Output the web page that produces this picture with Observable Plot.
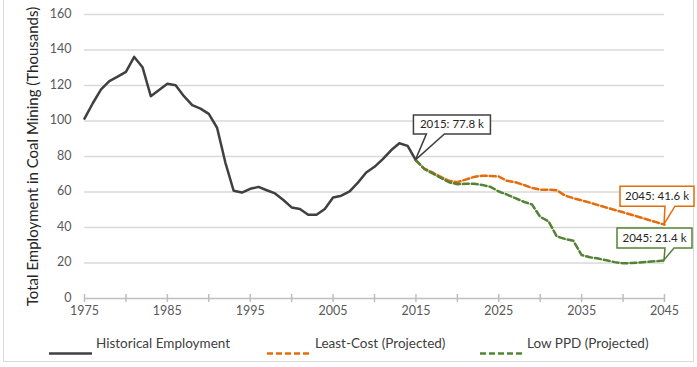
<!DOCTYPE html>
<html><head><meta charset="utf-8">
<script src="https://cdn.jsdelivr.net/npm/d3@7"></script>
<script src="https://cdn.jsdelivr.net/npm/@observablehq/plot@0.6"></script>
<style>
body{margin:0;background:#fff;font-family:Lato,"Open Sans",sans-serif;}
#wrap{position:relative;width:697px;height:367px;overflow:hidden;background:#fff}
#frame{position:absolute;left:3px;top:-10px;width:691px;height:372px;border:1.5px solid #d9d9d9;box-sizing:border-box}
#chart{position:absolute;left:0;top:0}
#legend{position:absolute;left:0;top:333px;width:697px;height:20px;font-size:13.5px;color:#404040}
.li{position:absolute;top:0;height:20px;line-height:20px;white-space:nowrap}
.sw{position:absolute;top:9px;height:3px}
</style>
</head><body>
<div id="wrap"><div id="frame"></div><div id="chart"></div><div id="legend"></div></div>
<script>
// ---- data ----
const histYears = d3.range(1975, 2016);
const historical = [101.3,110,117.8,122.5,125,127.7,136.1,130.3,114,117.5,
  121,120.2,114,109,107,104,96.2,76.6,60.7,59.7,
  61.8,62.9,61,59.2,55.5,51.3,50.4,47.2,47.2,50.4,
  56.9,57.9,60.3,65.3,71,74.2,78.5,83.5,87.5,86,77.8];
const projYears = d3.range(2015, 2046);
const leastCost = [77.8,73.2,71,68.5,66.3,65.5,67,68.5,69.2,69,
  68.7,66.3,65.5,64,62.3,61.3,61.3,61,58,56.5,
  55.3,54,52.6,51.2,49.9,48.6,47.2,45.8,44.4,43,41.6];
const lowPPD = [77.8,73,70.5,68,65.5,64.4,64.6,64.6,64,62.9,
  60.3,58.5,56.5,54.5,53,46,43.5,35,33.5,32.5,
  24.5,23.2,22.5,21.5,20.5,19.8,20,20.3,20.7,21,21.4];
const seriesNames = ["Historical Employment","Least-Cost (Projected)","Low PPD (Projected)"];
const seriesColors = ["#404040","#e46c0a","#548235"];
const yTicks = d3.range(0, 161, 20);
const xTicks = d3.range(1975, 2046, 5);
const xLabels = d3.range(1975, 2046, 10);
const annoYears = [2015, 2045, 2045];
const annoValues = [77.8, 41.6, 21.4];
const annoText = ["2015: 77.8 k", "2045: 41.6 k", "2045: 21.4 k"];
const annoColors = ["#404040", "#e46c0a", "#548235"];

const hist = histYears.map((y, i) => ({year: y, value: historical[i]}));
const lc = projYears.map((y, i) => ({year: y, value: leastCost[i]}));
const lp = projYears.map((y, i) => ({year: y, value: lowPPD[i]}));
const annos = annoYears.map((y, i) => ({year: y, value: annoValues[i], text: annoText[i], color: annoColors[i]}));

// callout geometry relative to the anchored point: [left, top, width, height, wedge1, wedge2]
const calloutGeom = [[-2,-45,77,19,11,29],[-44,-38,74,20,1,11],[-47,-32,75,20,1,10]];

function calloutRender(index, scales, values) {
  const g = d3.create("svg:g");
  for (const i of index) {
    const px = values.x[i], py = values.y[i];
    const [l, t, w, h, w1, w2] = calloutGeom[i];
    const L = px + l, T = py + t, R = L + w, B = T + h;
    g.append("path")
      .attr("d", `M${L},${T}H${R}V${B}H${px + w2}L${px},${py}L${px + w1},${B}H${L}Z`)
      .attr("fill", "#fff").attr("stroke", annos[i].color).attr("stroke-width", 1.5)
      .attr("stroke-linejoin", "miter");
    g.append("text").attr("x", L + w / 2).attr("y", T + h / 2).attr("dy", "0.35em")
      .attr("text-anchor", "middle").attr("font-size", 11.5).attr("fill", "#262626")
      .text(annos[i].text);
  }
  return g.node();
}

const chart = Plot.plot({
  width: 697, height: 330,
  marginLeft: 84, marginRight: 33, marginTop: 14, marginBottom: 32,
  style: {fontFamily: "Lato, 'Open Sans', sans-serif", fontSize: "12.5px", color: "#595959", background: "transparent"},
  x: {domain: [1975, 2045]},
  y: {domain: [0, 160]},
  marks: [
    Plot.gridY(yTicks.filter(d => d > 0), {stroke: "#d9d9d9", strokeOpacity: 1, strokeWidth: 1.5}),
    Plot.ruleY([0], {stroke: "#bfbfbf", strokeWidth: 1.5}),
    Plot.axisX({ticks: xTicks, tickSize: 8, dy: -4, tickFormat: () => "", stroke: "#bfbfbf", strokeWidth: 1.5, label: null}),
    Plot.axisX({ticks: xLabels, tickSize: 0, tickPadding: 8, tickFormat: d => String(d), fill: "#595959", fontSize: 12.5, label: null}),
    Plot.axisY({ticks: yTicks, tickSize: 0, tickPadding: 13, dy: -1, fill: "#595959", fontSize: 12.5, label: null}),
    Plot.axisY({ticks: [], tickSize: 0, label: "Total Employment in Coal Mining (Thousands)", labelAnchor: "center", labelArrow: false, labelOffset: 57, fontSize: 15, fill: "#262626"}),
    Plot.line(hist, {x: "year", y: "value", stroke: seriesColors[0], strokeWidth: 2.5}),
    Plot.line(lc, {x: "year", y: "value", stroke: seriesColors[1], strokeWidth: 2.5, strokeDasharray: "6,3"}),
    Plot.line(lp, {x: "year", y: "value", stroke: seriesColors[2], strokeWidth: 2.5, strokeDasharray: "6,3"}),
    Plot.text(annos, {x: "year", y: "value", text: "text", render: calloutRender})
  ]
});
document.getElementById("chart").appendChild(chart);

// legend
const legendPos = [[49, 96], [267, 315], [480, 527]];
const legend = document.getElementById("legend");
seriesNames.forEach((name, i) => {
  const [sx, tx] = legendPos[i];
  const sw = document.createElement("div");
  sw.className = "sw";
  sw.style.left = sx + "px";
  sw.style.width = (tx - sx - 4) + "px";
  sw.innerHTML = `<svg width="${tx - sx - 4}" height="3"><line x1="0" x2="${tx - sx - 4}" y1="1.5" y2="1.5" stroke="${seriesColors[i]}" stroke-width="2.5" ${i ? 'stroke-dasharray="6,3"' : ''}/></svg>`;
  legend.appendChild(sw);
  const t = document.createElement("div");
  t.className = "li";
  t.style.left = tx + "px";
  t.textContent = name;
  legend.appendChild(t);
});
</script>
</body></html>
